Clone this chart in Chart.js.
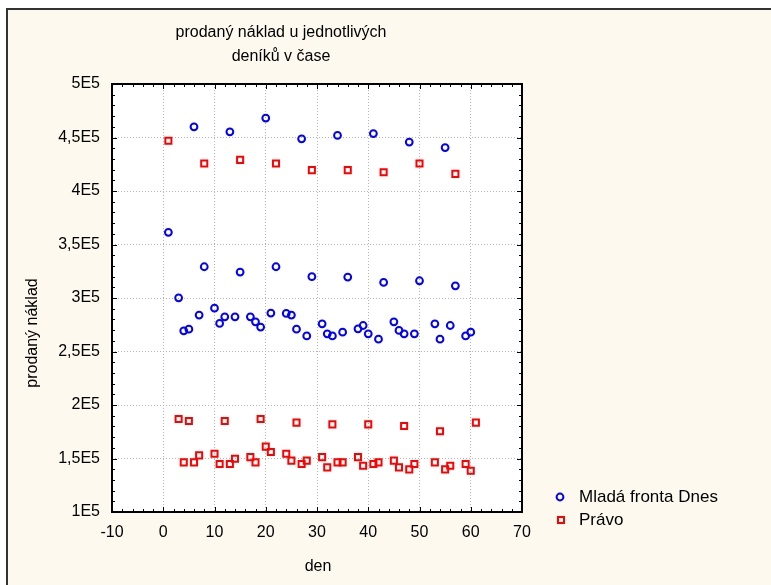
<!DOCTYPE html>
<html>
<head>
<meta charset="utf-8">
<script src="https://cdn.jsdelivr.net/npm/chart.js@4.4.0/dist/chart.umd.min.js"></script>
<style>
  html, body { margin: 0; padding: 0; background: #ffffff; }
  canvas { display: block; }
</style>
</head>
<body>
<canvas id="chart" width="771" height="585"></canvas>
<script>
// day numbers and sold circulation
const mfDays = [1, 3, 4, 5, 6, 7, 8, 10, 11, 12, 13, 14, 15, 17, 18, 19, 20, 21, 22, 24, 25, 26, 27, 28, 29,
  31, 32, 33, 34, 35, 36, 38, 39, 40, 41, 42, 43, 45, 46, 47, 48, 49, 50, 53, 54, 55, 56, 57, 59, 60];
const mfValues = [361400, 300200, 269300, 270900, 460000, 284000, 329200, 290500, 276200, 282400, 455300, 282400,
  324200, 282400, 277700, 272800, 468200, 285900, 329200, 285600, 284000, 270900, 448800, 264600, 319900,
  275900, 266500, 264600, 451900, 268100, 319600, 271200, 274300, 266500, 453700, 261500, 314600,
  277700, 269700, 266500, 445700, 266500, 316100, 275900, 261500, 440600, 274300, 311400, 264600, 268100];

const pravoDays = [1, 3, 4, 5, 6, 7, 8, 10, 11, 12, 13, 14, 15, 17, 18, 19, 20, 21, 22, 24, 25, 26, 27, 28, 29,
  31, 32, 33, 34, 35, 36, 38, 39, 40, 41, 42, 43, 45, 46, 47, 48, 49, 50, 53, 54, 55, 56, 57, 59, 60, 61];
const pravoValues = [446900, 186900, 146400, 185000, 146400, 152900, 425700, 154500, 144800, 185000, 144800, 149800,
  429100, 151300, 146400, 186900, 161100, 156000, 425700, 154500, 148000, 183500, 144800, 148000, 419500,
  151300, 141700, 181900, 146400, 146400, 419500, 151300, 143300, 181900, 144800, 146400, 417600,
  148000, 141700, 180400, 139800, 144800, 425700, 146400, 175400, 139800, 143300, 416000, 144800, 138600, 183500];

const seriesNames = ['Mladá fronta Dnes', 'Právo'];
const titleLines = ['prodaný náklad u jednotlivých', 'deníků v čase'];
const xTitle = 'den';
const yTitle = 'prodaný náklad';
const yTickLabels = ['1E5', '1,5E5', '2E5', '2,5E5', '3E5', '3,5E5', '4E5', '4,5E5', '5E5'];

const FONT = '"Liberation Sans", Arial, sans-serif';
const BLUE = '#0000ff';
const RED = '#ff0000';
const CREAM = '#fef9ee';

const toPoints = (xs, ys) => xs.map((x, i) => ({ x: x, y: ys[i] }));

const frame = {
  id: 'frame',
  beforeDraw(chart) {
    const ctx = chart.ctx;
    const a = chart.chartArea;
    ctx.save();
    ctx.fillStyle = '#ffffff';
    ctx.fillRect(0, 0, chart.width, chart.height);
    ctx.fillStyle = CREAM;
    ctx.fillRect(7, 9, chart.width - 7, chart.height - 9);
    ctx.strokeStyle = '#333333';
    ctx.lineWidth = 2;
    ctx.beginPath();
    ctx.moveTo(7, chart.height);
    ctx.lineTo(7, 9);
    ctx.lineTo(chart.width, 9);
    ctx.stroke();
    ctx.fillStyle = '#ffffff';
    ctx.fillRect(a.left, a.top, a.right - a.left, a.bottom - a.top);
    ctx.restore();
  },
  afterDraw(chart) {
    const ctx = chart.ctx;
    const a = chart.chartArea;
    const xs = chart.scales.x;
    const ys = chart.scales.y;
    ctx.save();
    ctx.strokeStyle = '#000000';
    ctx.lineWidth = 1;
    ctx.beginPath();
    // minor + major ticks pointing inward, every 2 days / 10000
    for (let v = -10; v <= 70; v += 2) {
      const px = Math.round(xs.getPixelForValue(v)) + 0.5;
      const len = v % 10 === 0 ? 5 : 3;
      ctx.moveTo(px, a.bottom); ctx.lineTo(px, a.bottom - len);
      ctx.moveTo(px, a.top); ctx.lineTo(px, a.top + len);
    }
    for (let v = 100000; v <= 500000; v += 10000) {
      const py = Math.round(ys.getPixelForValue(v)) + 0.5;
      const len = v % 50000 === 0 ? 5 : 3;
      ctx.moveTo(a.left, py); ctx.lineTo(a.left + len, py);
      ctx.moveTo(a.right, py); ctx.lineTo(a.right - len, py);
    }
    ctx.stroke();
    ctx.lineWidth = 2;
    ctx.strokeRect(a.left, a.top, a.right - a.left, a.bottom - a.top);

    // titles
    ctx.fillStyle = '#000000';
    ctx.textAlign = 'center';
    ctx.textBaseline = 'middle';
    ctx.font = '16px ' + FONT;
    ctx.fillText(titleLines[0], 281, 33);
    ctx.fillText(titleLines[1], 281, 57);
    ctx.fillText(xTitle, 318, 567);
    ctx.save();
    ctx.translate(33, 333);
    ctx.rotate(-Math.PI / 2);
    ctx.fillText(yTitle, 0, 0);
    ctx.restore();

    // legend
    ctx.lineWidth = 2;
    ctx.strokeStyle = BLUE;
    ctx.beginPath();
    ctx.arc(560, 497, 3.4, 0, Math.PI * 2);
    ctx.stroke();
    ctx.strokeStyle = RED;
    ctx.strokeRect(558, 517, 6, 6);
    ctx.textAlign = 'left';
    ctx.font = '17px ' + FONT;
    ctx.fillText(seriesNames[0], 579, 497);
    ctx.fillText(seriesNames[1], 579, 520);
    ctx.restore();
  }
};

new Chart(document.getElementById('chart'), {
  type: 'scatter',
  data: {
    datasets: [
      {
        label: seriesNames[0],
        data: toPoints(mfDays, mfValues),
        pointStyle: 'circle',
        radius: 3.4,
        borderWidth: 2,
        borderColor: BLUE,
        backgroundColor: 'rgba(0,0,0,0)',
      },
      {
        label: seriesNames[1],
        data: toPoints(pravoDays, pravoValues),
        pointStyle: 'rect',
        radius: 4.3,
        borderWidth: 2,
        borderColor: RED,
        backgroundColor: 'rgba(0,0,0,0)',
      },
    ],
  },
  options: {
    responsive: false,
    animation: false,
    devicePixelRatio: 1,
    layout: { padding: { left: 0, top: 84, right: 249, bottom: 0 } },
    plugins: {
      legend: { display: false },
      title: { display: false },
      tooltip: { enabled: false },
    },
    scales: {
      x: {
        type: 'linear',
        min: -10,
        max: 70,
        ticks: {
          stepSize: 10,
          padding: 11,
          color: '#000000',
          font: { family: FONT, size: 16 },
        },
        grid: { color: '#b4b4b4', lineWidth: 1, drawTicks: false },
        border: { display: false, dash: [1, 2] },
        afterFit(scale) { scale.height = 585 - 512; },
      },
      y: {
        type: 'linear',
        min: 100000,
        max: 500000,
        ticks: {
          stepSize: 50000,
          padding: 12,
          color: '#000000',
          font: { family: FONT, size: 16 },
          callback: (v, i) => yTickLabels[i],
        },
        grid: { color: '#b4b4b4', lineWidth: 1, drawTicks: false },
        border: { display: false, dash: [1, 2] },
        afterFit(scale) { scale.width = 112; },
      },
    },
  },
  plugins: [frame],
});
</script>
</body>
</html>
